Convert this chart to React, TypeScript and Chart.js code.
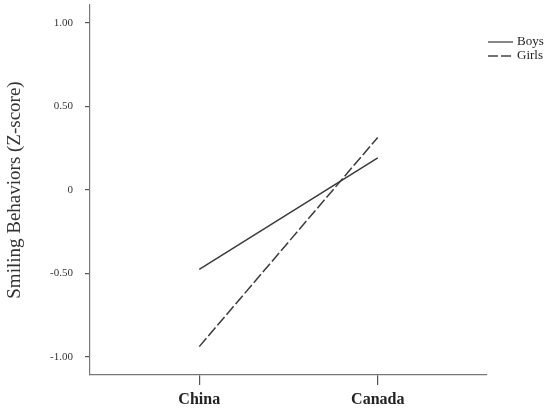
import React, { useEffect, useRef } from "react";
import { Chart, registerables } from "chart.js";

Chart.register(...registerables);

const categories = ["China", "Canada"];
const boys = [-0.475, 0.193];
const girls = [-0.938, 0.315];
const yTicks = [-1, -0.5, 0, 0.5, 1];
const seriesNames = ["Boys", "Girls"];

const SERIF = "'Liberation Serif', 'Times New Roman', serif";

const legendPlugin = {
  id: "customLegend",
  afterDraw(chart: any) {
    const ctx = chart.ctx;
    const x0 = chart.chartArea.right + 1;
    const items = [
      { name: seriesNames[0], dash: [] as number[], y: 42 },
      { name: seriesNames[1], dash: [10, 3], y: 56 },
    ];
    ctx.save();
    items.forEach((it) => {
      ctx.strokeStyle = "#444";
      ctx.lineWidth = 1.3;
      ctx.setLineDash(it.dash);
      ctx.beginPath();
      ctx.moveTo(x0, it.y);
      ctx.lineTo(x0 + 25, it.y);
      ctx.stroke();
      ctx.setLineDash([]);
      ctx.fillStyle = "#222";
      ctx.font = `13px ${SERIF}`;
      ctx.textBaseline = "middle";
      ctx.textAlign = "left";
      ctx.fillText(it.name, x0 + 29, it.y);
    });
    ctx.restore();
  },
};

export default function App() {
  const ref = useRef<HTMLCanvasElement>(null);
  useEffect(() => {
    if (!ref.current) return;
    const chart = new Chart(ref.current, {
      type: "line",
      data: {
        datasets: [
          {
            label: seriesNames[0],
            data: categories.map((_, i) => ({ x: i, y: boys[i] })),
            borderColor: "#3a3a3a",
            borderWidth: 1.5,
            pointRadius: 0,
            fill: false,
          },
          {
            label: seriesNames[1],
            data: categories.map((_, i) => ({ x: i, y: girls[i] })),
            borderColor: "#3a3a3a",
            borderWidth: 1.5,
            borderDash: [11, 3],
            pointRadius: 0,
            fill: false,
          },
        ],
      },
      options: {
        animation: false,
        responsive: false,
        layout: { padding: { top: 5, right: 63, left: 0, bottom: 0 } },
        plugins: { legend: { display: false }, tooltip: { enabled: false } },
        scales: {
          x: {
            type: "linear",
            min: -0.612,
            max: 1.612,
            afterBuildTicks: (s: any) => {
              s.ticks = categories.map((_, i) => ({ value: i }));
            },
            afterFit: (s: any) => {
              s.height = 35;
              s.paddingLeft = 0;
              s.paddingRight = 0;
            },
            ticks: {
              callback: (v: any) => categories[v as number] ?? "",
              font: { family: SERIF, size: 16, weight: "bold" },
              color: "#222",
              padding: 5,
              maxRotation: 0,
              autoSkip: false,
            },
            grid: { drawOnChartArea: false, tickLength: 10, color: "#555", lineWidth: 1.2 },
            border: { color: "#777", width: 1.2 },
          },
          y: {
            min: -1.108,
            max: 1.108,
            afterBuildTicks: (s: any) => {
              s.ticks = yTicks.map((v) => ({ value: v }));
            },
            afterFit: (s: any) => {
              s.width = 90;
              s.paddingTop = 0;
              s.paddingBottom = 0;
            },
            ticks: {
              callback: (v: any) => (v === 0 ? "0" : Number(v).toFixed(2)),
              font: { family: SERIF, size: 11 },
              color: "#333",
              padding: 12,
            },
            grid: { drawOnChartArea: false, tickLength: 5, color: "#555", lineWidth: 1.2 },
            border: { color: "#777", width: 1.2 },
            title: {
              display: true,
              text: "Smiling Behaviors (Z-score)",
              font: { family: SERIF, size: 19 },
              color: "#333",
              padding: { top: 4, bottom: 0 },
            },
          },
        },
      },
      plugins: [legendPlugin],
    });
    return () => chart.destroy();
  }, []);
  return (
    <div style={{ position: "fixed", left: 0, top: 0, width: 550, height: 410, background: "#fff" }}>
      <canvas ref={ref} width={550} height={410} />
    </div>
  );
}
